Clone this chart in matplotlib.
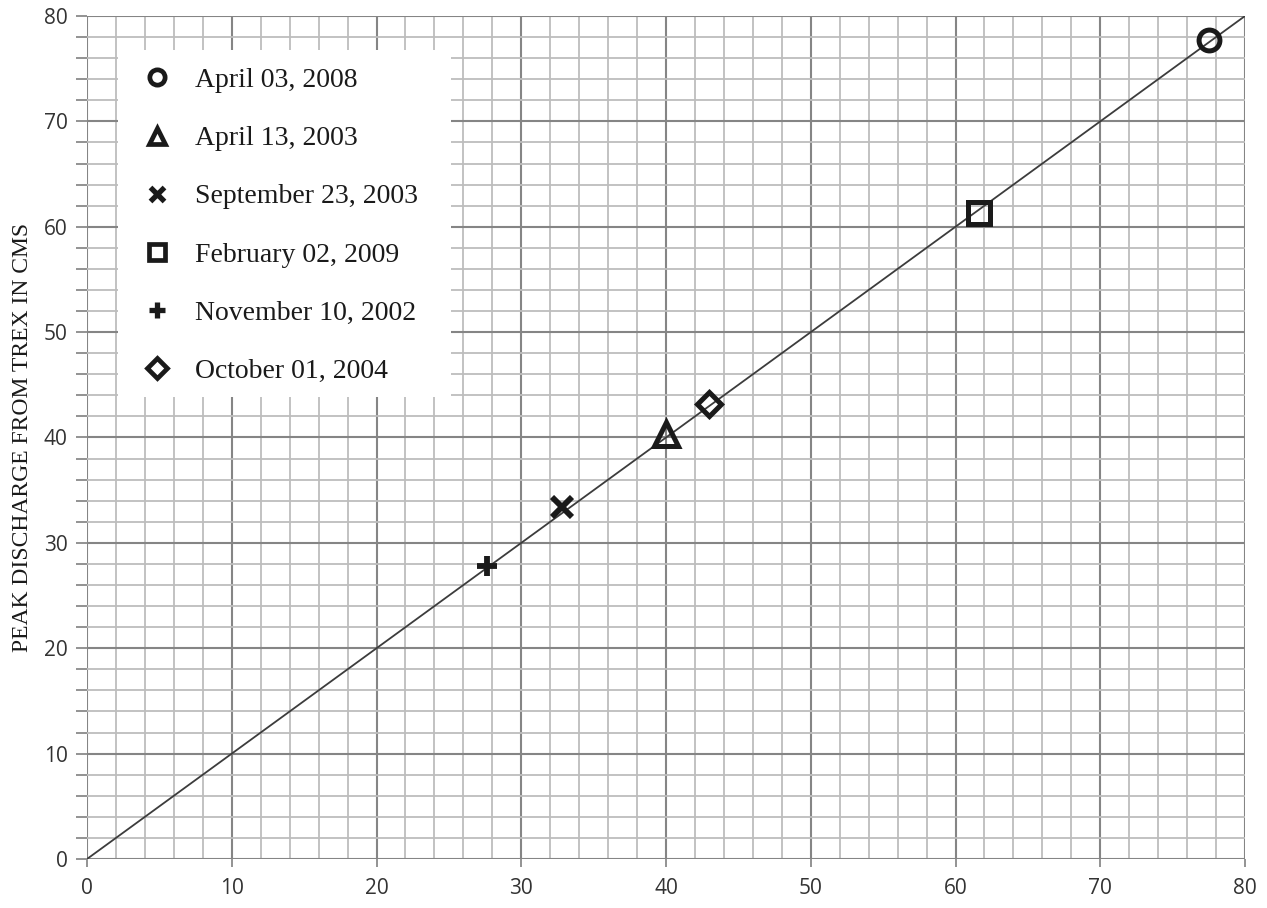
import matplotlib
matplotlib.use("Agg")
import matplotlib.pyplot as plt
from matplotlib.lines import Line2D
from matplotlib.patches import Rectangle
import numpy as np

# Flood events: observed peak (x) vs peak from TREX (y), in CMS
events = ["April 03, 2008", "April 13, 2003", "September 23, 2003",
          "February 02, 2009", "November 10, 2002", "October 01, 2004"]
observed = [77.5, 40.0, 32.8, 61.6, 27.6, 43.0]
simulated = [77.7, 40.3, 33.4, 61.3, 27.8, 43.2]
markers = ["o", "^", "x", "s", "P", "D"]
x_ticks = [0, 10, 20, 30, 40, 50, 60, 70, 80]
y_ticks = [0, 10, 20, 30, 40, 50, 60, 70, 80]
line_ends = [0, 80]

SERIF = ["Liberation Serif", "DejaVu Serif"]
INK = "#1a1a1a"

fig = plt.figure(figsize=(12.67, 9.08), dpi=100)
ax = fig.add_axes([87 / 1267, 1 - 859 / 908, 1158 / 1267, 843 / 908])
ax.set_xlim(0, 80)
ax.set_ylim(0, 80)

for s in ax.spines.values():
    s.set_visible(False)

# graph-paper grid
ax.set_xticks(x_ticks)
ax.set_yticks(y_ticks)
ax.set_xticks(np.arange(0, 81, 2), minor=True)
ax.set_yticks(np.arange(0, 81, 2), minor=True)
ax.grid(which="minor", color="#bdbdbd", linewidth=1.3, zorder=0)
ax.grid(which="major", color="#858585", linewidth=1.5, zorder=0)
ax.set_axisbelow(True)
ax.tick_params(axis="y", which="both", length=8, width=1.3, color="#8a8a8a",
               labelsize=15, pad=6, labelcolor="#333333")
ax.tick_params(axis="x", which="major", length=6, width=1.3, color="#8a8a8a",
               labelsize=15, pad=8, labelcolor="#333333")
ax.tick_params(axis="x", which="minor", length=0)
for lab in ax.get_xticklabels() + ax.get_yticklabels():
    lab.set_fontfamily("Open Sans")

# 1:1 line
ax.plot(line_ends, line_ends, color="#3c3c3c", linewidth=1.3, zorder=2)

# event markers
for xv, yv, m in zip(observed, simulated, markers):
    if m == "x":
        ax.plot(xv, yv, marker="x", markersize=15, markeredgewidth=4.2,
                color=INK, linestyle="none", zorder=3)
    elif m == "P":
        ax.plot(xv, yv, marker="+", markersize=15, markeredgewidth=4.2,
                color=INK, linestyle="none", zorder=3)
    else:
        size = {"o": 15, "^": 17, "s": 16, "D": 12}[m]
        ax.plot(xv, yv, marker=m, markersize=size, markerfacecolor="none",
                markeredgewidth=3.6, markeredgecolor=INK,
                linestyle="none", zorder=3)

# white panel behind the legend
ax.add_patch(Rectangle((0.027, 0.548), 0.287, 0.412, transform=ax.transAxes,
                       facecolor="white", edgecolor="none", zorder=1))

handles = []
for m in markers:
    if m == "x":
        h = Line2D([], [], marker="x", markersize=10, markeredgewidth=3.8,
                   color=INK, linestyle="none")
    elif m == "P":
        h = Line2D([], [], marker="+", markersize=11, markeredgewidth=3.8,
                   color=INK, linestyle="none")
    else:
        size = {"o": 11, "^": 11.5, "s": 11, "D": 10}[m]
        h = Line2D([], [], marker=m, markersize=size, markerfacecolor="white",
                   markeredgewidth=3.4, markeredgecolor=INK,
                   linestyle="none")
    handles.append(h)

leg = ax.legend(handles, events, loc="upper left",
                bbox_to_anchor=(0.0364, 0.952), frameon=False,
                prop={"family": SERIF, "size": 20},
                labelspacing=1.18, handletextpad=0.77, handlelength=1.2,
                borderaxespad=0)
leg.set_zorder(4)
for t in leg.get_texts():
    t.set_color(INK)

ax.set_ylabel("PEAK DISCHARGE FROM TREX IN CMS", family=SERIF,
              fontsize=17, color=INK, labelpad=8)

fig.savefig("out.png", dpi=100, facecolor="white")
